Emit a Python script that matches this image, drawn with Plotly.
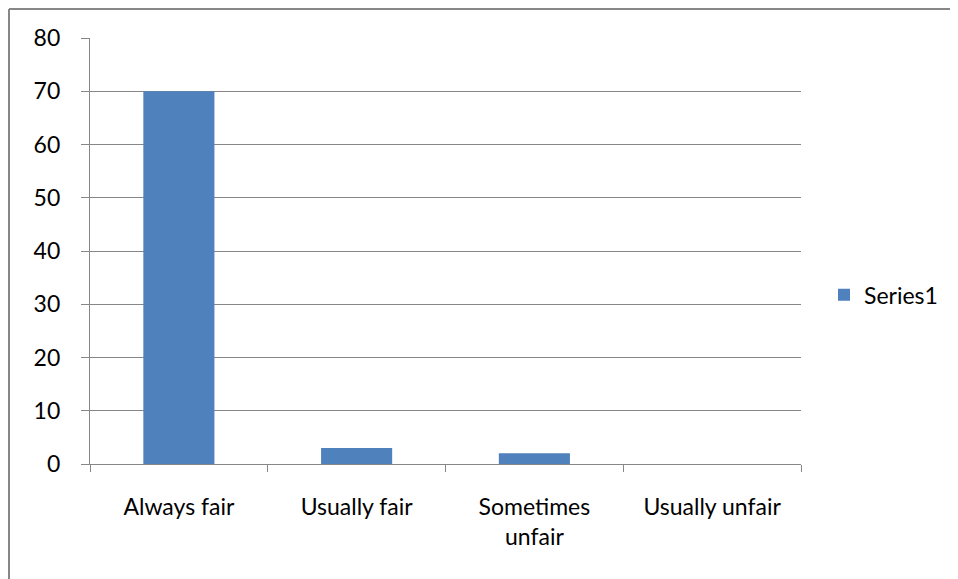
import plotly.graph_objects as go

categories = ["Always fair", "Usually fair", "Sometimes<br>unfair", "Usually unfair"]
values = [70, 3, 2, 0]
series_name = "Series1"
y_ticks = [0, 10, 20, 30, 40, 50, 60, 70, 80]

GRID = "#878787"
BAR = "#4F81BD"
FONT = "Lato"

W, H = 958, 579
OFF = 8  # page body margin
L, T = 90 - OFF, 38 - OFF
R = W - (801 - OFF)
B = H - (464 - OFF)
pw, ph = W - L - R, H - T - B

fig = go.Figure()
fig.add_trace(go.Bar(x=categories, y=values, name=series_name,
                     marker=dict(color=BAR, line=dict(width=0))))

bx = (9 - OFF - L) / pw
ty = 1 + (T - (9 - OFF)) / ph
fig.add_shape(type="line", xref="paper", yref="paper", x0=bx, x1=1.4, y0=ty, y1=ty,
              line=dict(color=GRID, width=2))
fig.add_shape(type="line", xref="paper", yref="paper", x0=bx, x1=bx, y0=ty, y1=-0.5,
              line=dict(color=GRID, width=2))

fig.update_layout(
    width=W, height=H,
    margin=dict(l=L, r=R, t=T, b=B),
    paper_bgcolor="white", plot_bgcolor="white",
    font=dict(family=FONT, size=23, color="#000000"),
    bargap=0.6,
    showlegend=True,
    legend=dict(x=(824 - OFF - L) / pw, xanchor="left", y=0.397, yanchor="middle",
                font=dict(family=FONT, size=23), itemwidth=30, bgcolor="rgba(0,0,0,0)"),
    xaxis=dict(type="category", showline=True, linecolor=GRID, linewidth=1.3,
               ticks="outside", tickson="boundaries", ticklen=7, tickcolor=GRID, tickwidth=1.3,
               showgrid=False, ticklabelstandoff=22, fixedrange=True),
    yaxis=dict(range=[0, 80], tickvals=y_ticks, showline=True, linecolor=GRID, linewidth=1.3,
               ticks="outside", ticklen=8, tickcolor=GRID, tickwidth=1.3,
               showgrid=True, gridcolor=GRID, gridwidth=1.3, zeroline=False,
               ticklabelstandoff=16, fixedrange=True),
)

fig.write_html("out.html")
